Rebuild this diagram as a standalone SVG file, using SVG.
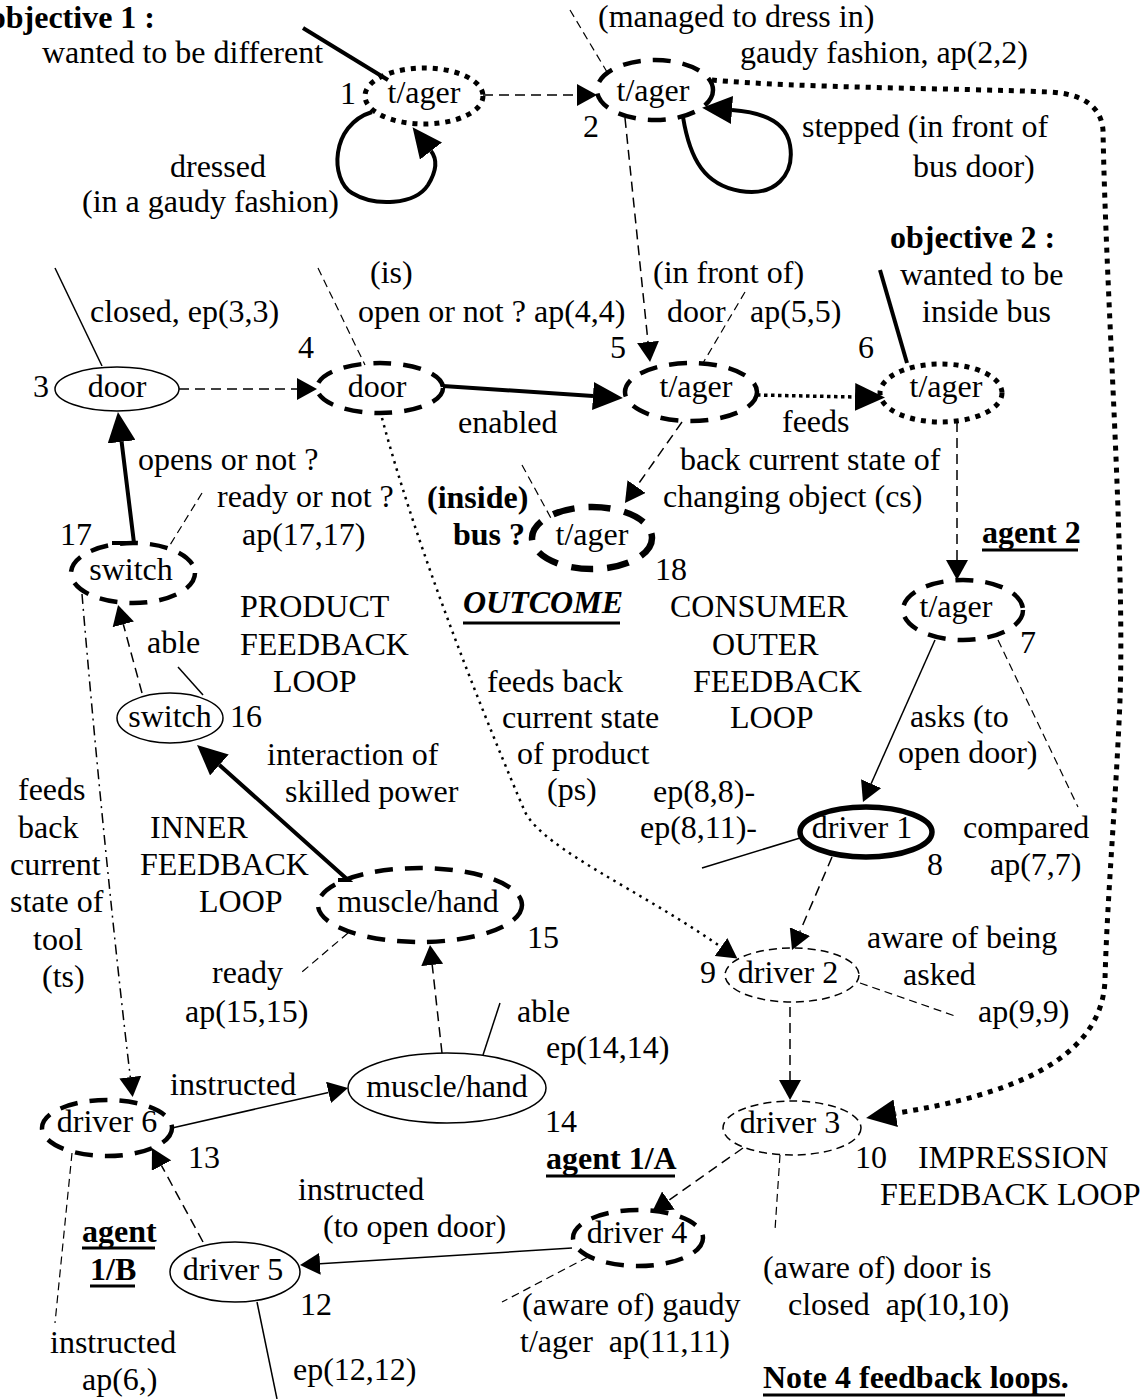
<svg xmlns="http://www.w3.org/2000/svg" width="1148" height="1399" viewBox="0 0 1148 1399">
<defs>
<style>
text{font-family:"Liberation Serif","Times New Roman",serif;font-size:32px;fill:#000}
.c{text-anchor:middle}
.b{font-weight:bold}
.bi{font-weight:bold;font-style:italic}
.pre{white-space:pre}
.n{fill:#fff;stroke:#000}
.nthin{stroke-width:1.5}
.nbold{stroke-width:5.5}
.ntdash{stroke-width:1.5;stroke-dasharray:8 5}
.nkdash{stroke-width:4.5;stroke-dasharray:18 12}
.nxdash{stroke-width:6.5;stroke-dasharray:22 14}
.nkdot{stroke-width:5;stroke-dasharray:5 6}
.e{fill:none;stroke:#000}
.sd{stroke-width:1.5;stroke-dasharray:10 6}
.ss{stroke-width:1.5}
.ks{stroke-width:4}
.dt{stroke-width:3.5;stroke-dasharray:3.5 3.5}
.bdt{stroke-width:5;stroke-dasharray:5 6}
.pd{stroke-width:2.5;stroke-dasharray:2.5 5}
.dd{stroke-width:1.5;stroke-dasharray:10 5 2 5}
.ld{stroke-width:1.2;stroke-dasharray:8 5}
.ls{stroke-width:1.5}
.ul{stroke:#000;stroke-width:3}
</style>
<marker id="ah" viewBox="0 0 20 22" refX="0" refY="11" markerWidth="20" markerHeight="22" markerUnits="userSpaceOnUse" orient="auto"><path d="M0,0 L20,11 L0,22 z" fill="#000"/></marker>
<marker id="ahb" viewBox="0 0 30 28" refX="0" refY="14" markerWidth="30" markerHeight="28" markerUnits="userSpaceOnUse" orient="auto"><path d="M0,0 L30,14 L0,28 z" fill="#000"/></marker>
</defs>
<rect x="0" y="0" width="1148" height="1399" fill="#fff"/>

<g id="nodes">
<g id="n1"><ellipse class="n nkdot" cx="424" cy="96" rx="59" ry="28"/><text class="c" x="424" y="103">t/ager</text><text x="340" y="104">1</text></g>
<g id="n2"><ellipse class="n nkdash" cx="655" cy="90" rx="58" ry="30"/><text class="c" x="653" y="101">t/ager</text><text x="583" y="137">2</text></g>
<g id="n3"><ellipse class="n nthin" cx="117" cy="389" rx="62" ry="22"/><text class="c" x="117" y="397">door</text><text x="33" y="397">3</text></g>
<g id="n4"><ellipse class="n nkdash" cx="380" cy="388" rx="63" ry="25"/><text class="c" x="377" y="397">door</text><text x="298" y="358">4</text></g>
<g id="n5"><ellipse class="n nkdash" cx="691" cy="392" rx="66" ry="29"/><text class="c" x="696" y="397">t/ager</text><text x="610" y="358">5</text></g>
<g id="n6"><ellipse class="n nkdot" cx="941" cy="393" rx="61" ry="29"/><text class="c" x="946" y="397">t/ager</text><text x="858" y="358">6</text></g>
<g id="n7"><ellipse class="n nkdash" cx="963" cy="610" rx="60" ry="30"/><text class="c" x="956" y="617">t/ager</text><text x="1020" y="653">7</text></g>
<g id="n8"><ellipse class="n nbold" cx="866" cy="832" rx="66" ry="25"/><text class="c" x="862" y="838">driver 1</text><text x="927" y="875">8</text></g>
<g id="n9"><ellipse class="n ntdash" cx="792" cy="975" rx="67" ry="27"/><text class="c" x="788" y="983">driver 2</text><text x="700" y="983">9</text></g>
<g id="n10"><ellipse class="n ntdash" cx="792" cy="1128" rx="69" ry="27"/><text class="c" x="790" y="1133">driver 3</text><text x="855" y="1168">10</text></g>
<g id="n11"><ellipse class="n nkdash" cx="638" cy="1238" rx="65" ry="28"/><text class="c" x="637" y="1243">driver 4</text></g>
<g id="n12"><ellipse class="n nthin" cx="235" cy="1272" rx="65" ry="30"/><text class="c" x="233" y="1280">driver 5</text><text x="300" y="1315">12</text></g>
<g id="n13"><ellipse class="n nkdash" cx="107" cy="1128" rx="65" ry="28"/><text class="c" x="107" y="1132">driver 6</text><text x="188" y="1168">13</text></g>
<g id="n14"><ellipse class="n nthin" cx="447" cy="1088" rx="99" ry="35"/><text class="c" x="447" y="1097">muscle/hand</text><text x="545" y="1132">14</text></g>
<g id="n15"><ellipse class="n nkdash" cx="420" cy="905" rx="102" ry="37"/><text class="c" x="418" y="912">muscle/hand</text><text x="527" y="948">15</text></g>
<g id="n16"><ellipse class="n nthin" cx="170" cy="718" rx="53" ry="25"/><text class="c" x="170" y="727">switch</text><text x="230" y="727">16</text></g>
<g id="n17"><ellipse class="n nkdash" cx="133" cy="573" rx="62" ry="30"/><text class="c" x="131" y="580">switch</text><text x="60" y="545">17</text></g>
<g id="n18"><ellipse class="n nxdash" cx="592" cy="538" rx="60" ry="31"/><text class="c" x="592" y="545">t/ager</text><text x="655" y="580">18</text></g>
</g>

<g id="connectors">
<path class="e sd" d="M483,95 L577,95" marker-end="url(#ah)"/>
<path class="e sd" d="M179,389 L297,389" marker-end="url(#ah)"/>
<path class="e sd" d="M625,118 L648,342" marker-end="url(#ah)"/>
<path class="e sd" d="M682,422 L636.5,486.6" marker-end="url(#ah)"/>
<path class="e sd" d="M957,422 L957,560" marker-end="url(#ah)"/>
<path class="e ss" d="M935,640 L871.1,783.7" marker-end="url(#ah)"/>
<path class="e sd" d="M832,857 L799.9,931.6" marker-end="url(#ah)"/>
<path class="e sd" d="M790,1007 L790,1080" marker-end="url(#ah)"/>
<path class="e sd" d="M743,1148 L668.4,1200.5" marker-end="url(#ah)"/>
<path class="e ss" d="M572,1248 L320,1263.8" marker-end="url(#ah)"/>
<path class="e sd" d="M203,1242 L161.5,1165.6" marker-end="url(#ah)"/>
<path class="e ss" d="M172,1128 L328.5,1092.4" marker-end="url(#ah)"/>
<path class="e sd" d="M442,1053 L432.2,964.9" marker-end="url(#ah)"/>
<path class="e sd" d="M142,693 L123.3,624.3" marker-end="url(#ah)"/>
<path class="e dd" d="M82,594 C95,750 115,950 130.3,1077.1" marker-end="url(#ah)"/>
<path class="e pd" d="M382,418 C420,560 490,730 525,812 C545,850 640,890 721,947" marker-end="url(#ah)"/>
<path class="e ks" d="M443,386 L593,396" marker-end="url(#ahb)"/>
<path class="e ks" d="M112,543 L134,543 L121.6,441.8" marker-end="url(#ahb)"/>
<path class="e ks" d="M338,880 L348,880 L219.4,765" marker-end="url(#ahb)"/>
<path class="e dt" d="M757,395 L855,397" marker-end="url(#ahb)"/>
<path class="e bdt" d="M712,80 C800,88 950,88 1050,92 Q1100,95 1103,130 C1106,300 1125,550 1120,700 C1116,800 1107,900 1105,980 C1102,1060 1010,1095 895.7,1113.3" marker-end="url(#ahb)"/>
<path class="e ks" d="M372,112 C330,125 330,180 352,193 C375,207 415,205 428,185 C436,172 438,160 431,151" marker-end="url(#ahb)"/>
<path class="e ks" d="M683,117 C690,160 705,185 740,191 C775,197 795,175 790,145 C786,120 760,112 732,110" marker-end="url(#ahb)"/>
</g>

<g id="leaders">
<line class="e ks" x1="303" y1="28" x2="388" y2="80"/>
<line class="e ld" x1="570" y1="10" x2="607" y2="72"/>
<line class="e ls" x1="55" y1="268" x2="102" y2="366"/>
<line class="e ld" x1="318" y1="268" x2="365" y2="365"/>
<line class="e ld" x1="745" y1="292" x2="703" y2="363"/>
<line class="e ks" x1="880" y1="270" x2="907" y2="363"/>
<line class="e ld" x1="522" y1="465" x2="552" y2="520"/>
<line class="e ld" x1="202" y1="493" x2="170" y2="545"/>
<line class="e ls" x1="178" y1="667" x2="203" y2="695"/>
<line class="e ld" x1="348" y1="933" x2="302" y2="972"/>
<line class="e ls" x1="483" y1="1055" x2="500" y2="1003"/>
<line class="e ld" x1="72" y1="1153" x2="55" y2="1323"/>
<line class="e ls" x1="257" y1="1302" x2="277" y2="1399"/>
<line class="e ld" x1="588" y1="1257" x2="502" y2="1302"/>
<line class="e ld" x1="780" y1="1155" x2="775" y2="1230"/>
<line class="e ld" x1="860" y1="983" x2="958" y2="1017"/>
<line class="e ls" x1="800" y1="838" x2="702" y2="868"/>
<line class="e ld" x1="998" y1="640" x2="1078" y2="807"/>
</g>

<g id="labels">
<text class="b" x="155" y="28" text-anchor="end">objective 1 :</text>
<text x="42" y="63">wanted to be different</text>
<text x="170" y="177">dressed</text>
<text x="82" y="212">(in a gaudy fashion)</text>
<text x="598" y="27">(managed to dress in)</text>
<text x="740" y="63">gaudy fashion, ap(2,2)</text>
<text x="802" y="137">stepped (in front of</text>
<text x="913" y="177">bus door)</text>
<text x="90" y="322">closed, ep(3,3)</text>
<text x="370" y="283">(is)</text>
<text x="358" y="322">open or not ? ap(4,4)</text>
<text x="653" y="283">(in front of)</text>
<text x="667" y="322">door</text>
<text x="750" y="322">ap(5,5)</text>
<text class="b" x="890" y="248">objective 2 :</text>
<text x="900" y="285">wanted to be</text>
<text x="922" y="322">inside bus</text>
<text x="458" y="433">enabled</text>
<text x="782" y="432">feeds</text>
<text x="138" y="470">opens or not ?</text>
<text x="217" y="507">ready or not ?</text>
<text x="242" y="545">ap(17,17)</text>
<text x="680" y="470">back current state of</text>
<text x="663" y="507">changing object (cs)</text>
<text class="b" x="427" y="508">(inside)</text>
<text class="b" x="453" y="545">bus ?</text>
<text class="b" x="982" y="543">agent 2</text>
<line class="ul" x1="982" y1="550" x2="1078" y2="550"/>
<text x="240" y="617">PRODUCT</text>
<text x="240" y="655">FEEDBACK</text>
<text x="273" y="692">LOOP</text>
<text class="bi" x="463" y="613">OUTCOME</text>
<line class="ul" x1="463" y1="623" x2="620" y2="623"/>
<text x="670" y="617">CONSUMER</text>
<text x="712" y="655">OUTER</text>
<text x="693" y="692">FEEDBACK</text>
<text x="730" y="728">LOOP</text>
<text x="147" y="653">able</text>
<text x="487" y="692">feeds back</text>
<text x="502" y="728">current state</text>
<text x="517" y="764">of product</text>
<text x="547" y="800">(ps)</text>
<text x="910" y="727">asks (to</text>
<text x="898" y="763">open door)</text>
<text x="267" y="765">interaction of</text>
<text x="285" y="802">skilled power</text>
<text x="18" y="800">feeds</text>
<text x="18" y="838">back</text>
<text x="10" y="875">current</text>
<text x="10" y="912">state of</text>
<text x="33" y="950">tool</text>
<text x="42" y="987">(ts)</text>
<text x="150" y="838">INNER</text>
<text x="140" y="875">FEEDBACK</text>
<text x="199" y="912">LOOP</text>
<text x="653" y="802">ep(8,8)-</text>
<text x="640" y="838">ep(8,11)-</text>
<text x="963" y="838">compared</text>
<text x="990" y="875">ap(7,7)</text>
<text x="867" y="948">aware of being</text>
<text x="903" y="985">asked</text>
<text x="212" y="983">ready</text>
<text x="185" y="1022">ap(15,15)</text>
<text x="517" y="1022">able</text>
<text x="546" y="1058">ep(14,14)</text>
<text x="978" y="1022">ap(9,9)</text>
<text x="170" y="1095">instructed</text>
<text class="b" x="546" y="1169">agent 1/A</text>
<line class="ul" x1="546" y1="1176" x2="675" y2="1176"/>
<text x="918" y="1168">IMPRESSION</text>
<text x="880" y="1205">FEEDBACK LOOP</text>
<text x="298" y="1200">instructed</text>
<text x="323" y="1237">(to open door)</text>
<text class="b" x="82" y="1242">agent</text>
<line class="ul" x1="82" y1="1248" x2="155" y2="1248"/>
<text class="b" x="90" y="1280">1/B</text>
<line class="ul" x1="90" y1="1286" x2="135" y2="1286"/>
<text x="763" y="1278">(aware of) door is</text>
<text class="pre" x="788" y="1315">closed  ap(10,10)</text>
<text x="522" y="1315">(aware of) gaudy</text>
<text class="pre" x="520" y="1352">t/ager  ap(11,11)</text>
<text x="50" y="1353">instructed</text>
<text x="82" y="1390">ap(6,)</text>
<text x="293" y="1380">ep(12,12)</text>
<text class="b" x="763" y="1388">Note 4 feedback loops.</text>
<line class="ul" x1="763" y1="1395" x2="1065" y2="1395"/>
</g>
</svg>
